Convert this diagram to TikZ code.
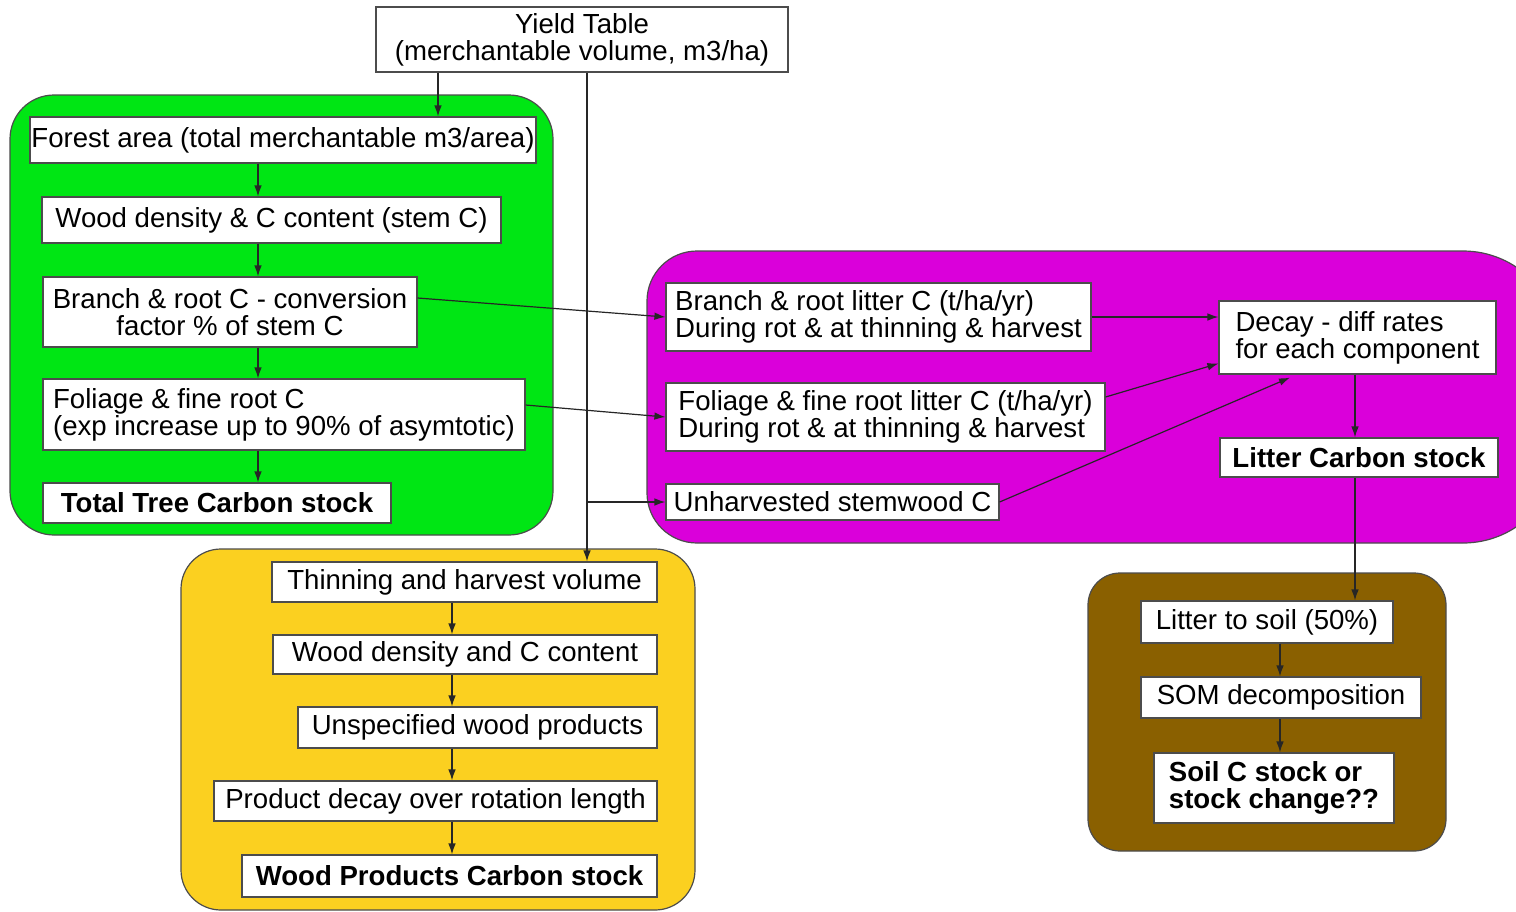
\documentclass[tikz,border=0pt]{standalone}
\usepackage{fontspec}
\setmainfont{Liberation Sans}
\usetikzlibrary{arrows.meta}
\definecolor{treegreen}{RGB}{0,230,20}
\definecolor{littermag}{RGB}{218,0,218}
\definecolor{prodyellow}{RGB}{251,208,32}
\definecolor{soilbrown}{RGB}{138,96,0}
\begin{document}
\begin{tikzpicture}[x=0.5pt,y=-0.5pt,
  box/.style={draw=black!70, fill=white, line width=0.6pt, inner sep=0pt,
    font=\fontsize{13.8}{13.5}\selectfont},
  bbox/.style={box, font=\fontsize{13.8}{13.5}\selectfont\bfseries},
  arr/.style={draw=black!85, line width=0.6pt, -{Latex[length=5.5pt,width=3.8pt]}},
  panel/.style={draw=black!70, line width=0.6pt}]
\useasboundingbox (0,0) rectangle (1516,911);
\clip (0,0) rectangle (1516,911);

% coloured group panels
\draw[panel, fill=treegreen, rounded corners=22pt] (10,95) rectangle (553,535);
\draw[panel, fill=prodyellow, rounded corners=20pt] (181,549) rectangle (695,910);
\draw[panel, fill=soilbrown, rounded corners=16pt] (1088,573) rectangle (1446,851);
\draw[panel, fill=littermag] (1103,251) [rounded corners=48pt] -| (1559,397) |- (1103,543)
  [rounded corners=25pt] -| (647,397) |- (1103,251);

% vertical guides for the connectors
\coordinate (ax) at (438,0);
\coordinate (vx) at (587,0);
\coordinate (gx) at (258,0);
\coordinate (yx) at (452,0);
\coordinate (dx) at (1355,0);
\coordinate (ux) at (1290,0);
\coordinate (bx) at (1280,0);

% source
\node[box, minimum width=206pt, minimum height=32.5pt, align=center] (yield) at (582,39.5)
  {Yield Table\\(merchantable volume, m3/ha)};

% tree carbon
\node[box, minimum width=253pt, minimum height=23pt] (forest) at (283,140)
  {Forest area (total merchantable m3/area)};
\node[box, minimum width=229.5pt, minimum height=23pt] (wood) at (271.5,220)
  {Wood density \& C content (stem C)};
\node[box, minimum width=187pt, minimum height=35pt, align=center] (branch) at (230,312)
  {Branch \& root C - conversion\\factor \% of stem C};
\node[box, minimum width=241pt, minimum height=35.5pt, align=left] (foliage) at (284,414.5)
  {Foliage \& fine root C\\(exp increase up to 90\% of asymtotic)};
\node[bbox, minimum width=174pt, minimum height=20pt] (total) at (217,503)
  {Total Tree Carbon stock};

% litter
\node[box, minimum width=212.5pt, minimum height=34pt, align=left] (blit) at (878.5,317)
  {Branch \& root litter C (t/ha/yr)\\During rot \& at thinning \& harvest};
\node[box, minimum width=219.5pt, minimum height=34pt, align=left] (flit) at (885.5,417)
  {Foliage \& fine root litter C (t/ha/yr)\\During rot \& at thinning \& harvest};
\node[box, minimum width=166.5pt, minimum height=18pt] (unharv) at (832.5,502)
  {Unharvested stemwood C};
\node[box, minimum width=138.5pt, minimum height=36.5pt, align=left] (decay) at (1357.5,337.5)
  {Decay - diff rates\\for each component};
\node[bbox, minimum width=139pt, minimum height=19.5pt] (litc) at (1359,457.5)
  {Litter Carbon stock};

% wood products
\node[box, minimum width=192.5pt, minimum height=20pt] (thin) at (464.5,582)
  {Thinning and harvest volume};
\node[box, minimum width=192pt, minimum height=19.5pt] (wdc) at (465,654.5)
  {Wood density and C content};
\node[box, minimum width=179.5pt, minimum height=20.5pt] (unspec) at (477.5,727.5)
  {Unspecified wood products};
\node[box, minimum width=221.5pt, minimum height=20pt] (prod) at (435.5,801)
  {Product decay over rotation length};
\node[bbox, minimum width=207.5pt, minimum height=21pt] (wpc) at (449.5,876)
  {Wood Products Carbon stock};

% soil
\node[box, minimum width=126pt, minimum height=21pt] (lsoil) at (1267,622)
  {Litter to soil (50\%)};
\node[box, minimum width=140pt, minimum height=20.5pt] (som) at (1281,697.5)
  {SOM decomposition};
\node[bbox, minimum width=120pt, minimum height=35pt, align=left] (soilc) at (1274,788)
  {Soil C stock or\\stock change??};

% connectors
\draw[arr] (yield.south -| ax) -- (forest.north -| ax);
\draw[arr] (yield.south -| vx) -- (thin.north -| vx);
\draw[arr] (unharv.west -| vx) -- (unharv.west);

\draw[arr] (forest.south -| gx) -- (wood.north -| gx);
\draw[arr] (wood.south -| gx) -- (branch.north -| gx);
\draw[arr] (branch.south -| gx) -- (foliage.north -| gx);
\draw[arr] (foliage.south -| gx) -- (total.north -| gx);

\draw[arr] ([yshift=7pt]branch.east) -- (blit.west);
\draw[arr] ([yshift=4.75pt]foliage.east) -- (flit.west);

\draw[arr] (blit.east) -- (blit.east -| decay.west);
\draw[arr] ([yshift=10pt]flit.east) -- ([yshift=-13pt]decay.west);
\draw[arr] (unharv.east) -- ([yshift=-1.5pt]decay.south -| ux);
\draw[arr] (decay.south -| dx) -- (litc.north -| dx);
\draw[arr] (litc.south -| dx) -- (lsoil.north -| dx);

\draw[arr] (thin.south -| yx) -- (wdc.north -| yx);
\draw[arr] (wdc.south -| yx) -- (unspec.north -| yx);
\draw[arr] (unspec.south -| yx) -- (prod.north -| yx);
\draw[arr] (prod.south -| yx) -- (wpc.north -| yx);

\draw[arr] (lsoil.south -| bx) -- (som.north -| bx);
\draw[arr] (som.south -| bx) -- (soilc.north -| bx);
\end{tikzpicture}
\end{document}
